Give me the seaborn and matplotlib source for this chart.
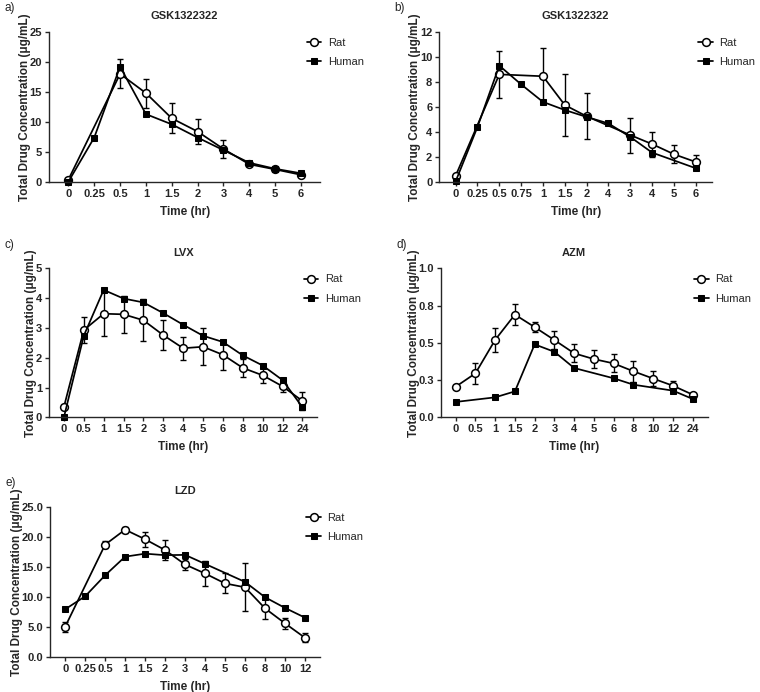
import numpy as np
import pandas as pd
import seaborn as sns
import matplotlib
matplotlib.use("Agg")
from matplotlib import pyplot as plt
from matplotlib.ticker import FormatStrFormatter

#### values (None = no point at that time)
a_times = ["0", "0.25", "0.5", "1", "1.5", "2", "3", "4", "5", "6"]
a_rat = [0.4, None, 18.0, 14.8, 10.6, 8.4, 5.5, 2.95, 2.1, 1.2]
a_rat_sd = [0.2, None, 2.4, 2.4, 2.5, 2.1, 1.5, 0.3, 0.3, 0.2]
a_human = [0.05, 7.4, 19.2, 11.3, 9.6, 7.4, 5.3, 3.2, 2.2, 1.45]
a_yticks = [0, 5, 10, 15, 20, 25]

b_times = ["0", "0.25", "0.5", "0.75", "1", "1.5", "2", "4", "3", "4", "5", "6"]
b_rat = [0.5, None, 8.6, None, 8.45, 6.15, 5.25, None, 3.75, 3.03, 2.22, 1.6]
b_rat_sd = [0.1, None, 1.85, None, 2.25, 2.5, 1.85, None, 1.4, 1.0, 0.7, 0.55]
b_human = [0.05, 4.4, 9.3, 7.8, 6.4, 5.75, 5.2, 4.68, 3.6, 2.35, None, 1.1]
b_yticks = [0, 2, 4, 6, 8, 10, 12]

c_times = ["0", "0.5", "1", "1.5", "2", "3", "4", "5", "6", "8", "10", "12", "24"]
c_rat = [0.35, 2.93, 3.48, 3.46, 3.26, 2.76, 2.32, 2.37, 2.1, 1.66, 1.41, 1.04, 0.55]
c_rat_sd = [0.05, 0.45, 0.75, 0.63, 0.71, 0.5, 0.39, 0.62, 0.5, 0.3, 0.26, 0.2, 0.3]
c_human = [0.0, 2.74, 4.28, 3.99, 3.86, 3.5, 3.11, 2.74, 2.53, 2.08, 1.74, 1.25, 0.34]
c_yticks = [0, 1, 2, 3, 4, 5]

d_times = ["0", "0.5", "1", "1.5", "2", "3", "4", "5", "6", "8", "10", "12", "24"]
d_rat = [0.205, 0.295, 0.52, 0.69, 0.606, 0.519, 0.43, 0.391, 0.362, 0.309, 0.26, 0.212, 0.152]
d_rat_sd = [0.01, 0.07, 0.08, 0.07, 0.035, 0.06, 0.06, 0.06, 0.06, 0.07, 0.05, 0.035, 0.01]
d_human = [0.103, None, 0.134, 0.174, 0.49, 0.44, 0.331, None, 0.262, 0.219, None, 0.179, 0.123]
d_yticks = [0, 0.25, 0.5, 0.75, 1.0]
d_yticklabels = ["0.0", "0.3", "0.5", "0.8", "1.0"]

e_times = ["0", "0.25", "0.5", "1", "1.5", "2", "3", "4", "5", "6", "8", "10", "12"]
e_rat = [5.03, None, 18.7, 21.2, 19.6, 17.8, 15.4, 13.9, 12.25, 11.6, 8.1, 5.6, 3.2]
e_rat_sd = [0.8, None, 0.6, 0.5, 1.25, 1.7, 0.9, 2.0, 1.65, 4.0, 1.8, 0.9, 0.75]
e_human = [7.94, 10.1, 13.6, 16.7, 17.2, 16.95, 17.0, 15.5, None, 12.5, 9.95, 8.17, 6.55]
e_yticks = [0, 5, 10, 15, 20, 25]

sns.set_style("ticks")
plt.rcParams['font.family'] = ['Liberation Sans', 'DejaVu Sans']
plt.rcParams['axes.linewidth'] = 1.0
plt.rcParams['xtick.major.width'] = 1.0
plt.rcParams['ytick.major.width'] = 1.0
plt.rcParams['xtick.major.size'] = 3
plt.rcParams['ytick.major.size'] = 3

fig = plt.figure(figsize=(7.6, 6.92), dpi=100)


def panel(rect, letter, title, times, rat, rat_sd, human, yticks, yticklabels=None, fmt=None):
    ax = fig.add_axes(rect)
    pos = np.arange(len(times))
    df = pd.DataFrame({"pos": pos, "rat": rat, "sd": rat_sd, "human": human})
    df = df.astype(float)
    dr = df.dropna(subset=["rat"])
    dh = df.dropna(subset=["human"])

    ax.errorbar(dr["pos"], dr["rat"], yerr=dr["sd"], fmt="none", ecolor="black",
                elinewidth=1.0, capsize=2.3, capthick=1.0, zorder=1.5, clip_on=False)
    sns.lineplot(data=dr, x="pos", y="rat", ax=ax, color="black", linewidth=1.25,
                 marker="o", markersize=5.6, markerfacecolor="white",
                 markeredgecolor="black", markeredgewidth=1.1, label="Rat", clip_on=False)
    sns.lineplot(data=dh, x="pos", y="human", ax=ax, color="black", linewidth=1.25,
                 marker="s", markersize=4.8, markerfacecolor="black",
                 markeredgecolor="black", label="Human", clip_on=False)

    ax.set_xlim(-0.75, len(times) - 0.25)
    ax.set_xticks(pos)
    ax.set_xticklabels(times)
    ax.set_ylim(yticks[0], yticks[-1])
    ax.set_yticks(yticks)
    if yticklabels is not None:
        ax.set_yticklabels(yticklabels)
    if fmt is not None:
        ax.yaxis.set_major_formatter(FormatStrFormatter(fmt))
    for lab in ax.get_xticklabels() + ax.get_yticklabels():
        lab.set_fontweight("bold")
        lab.set_fontsize(8)
    ax.tick_params(axis="both", pad=2)

    ax.set_xlabel("Time (hr)", fontsize=8.5, fontweight="bold", labelpad=5)
    ax.set_ylabel("Total Drug Concentration (\u03bcg/mL)", fontsize=8.5, fontweight="bold", labelpad=-1)
    ax.set_title(title, fontsize=8, fontweight="bold", pad=9)
    sns.despine(ax=ax)

    ax.legend(frameon=False, loc="upper left", bbox_to_anchor=(0.95, 0.96),
              fontsize=8, handlelength=1.3, handletextpad=0.6, borderpad=0,
              borderaxespad=0, labelspacing=0.85)
    ax.text(-0.165, 1.2, letter, transform=ax.transAxes, fontsize=8.5, va="top", ha="left")
    return ax


panel([0.0645, 0.737, 0.357, 0.217], "a)", "GSK1322322", a_times, a_rat, a_rat_sd, a_human, a_yticks)
panel([0.578, 0.737, 0.359, 0.217], "b)", "GSK1322322", b_times, b_rat, b_rat_sd, b_human, b_yticks)
panel([0.0645, 0.397, 0.353, 0.215], "c)", "LVX", c_times, c_rat, c_rat_sd, c_human, c_yticks)
panel([0.580, 0.397, 0.351, 0.215], "d)", "AZM", d_times, d_rat, d_rat_sd, d_human, d_yticks,
      yticklabels=d_yticklabels)
panel([0.066, 0.0506, 0.355, 0.217], "e)", "LZD", e_times, e_rat, e_rat_sd, e_human, e_yticks,
      fmt="%.1f")

fig.savefig("out.png", dpi=100)
